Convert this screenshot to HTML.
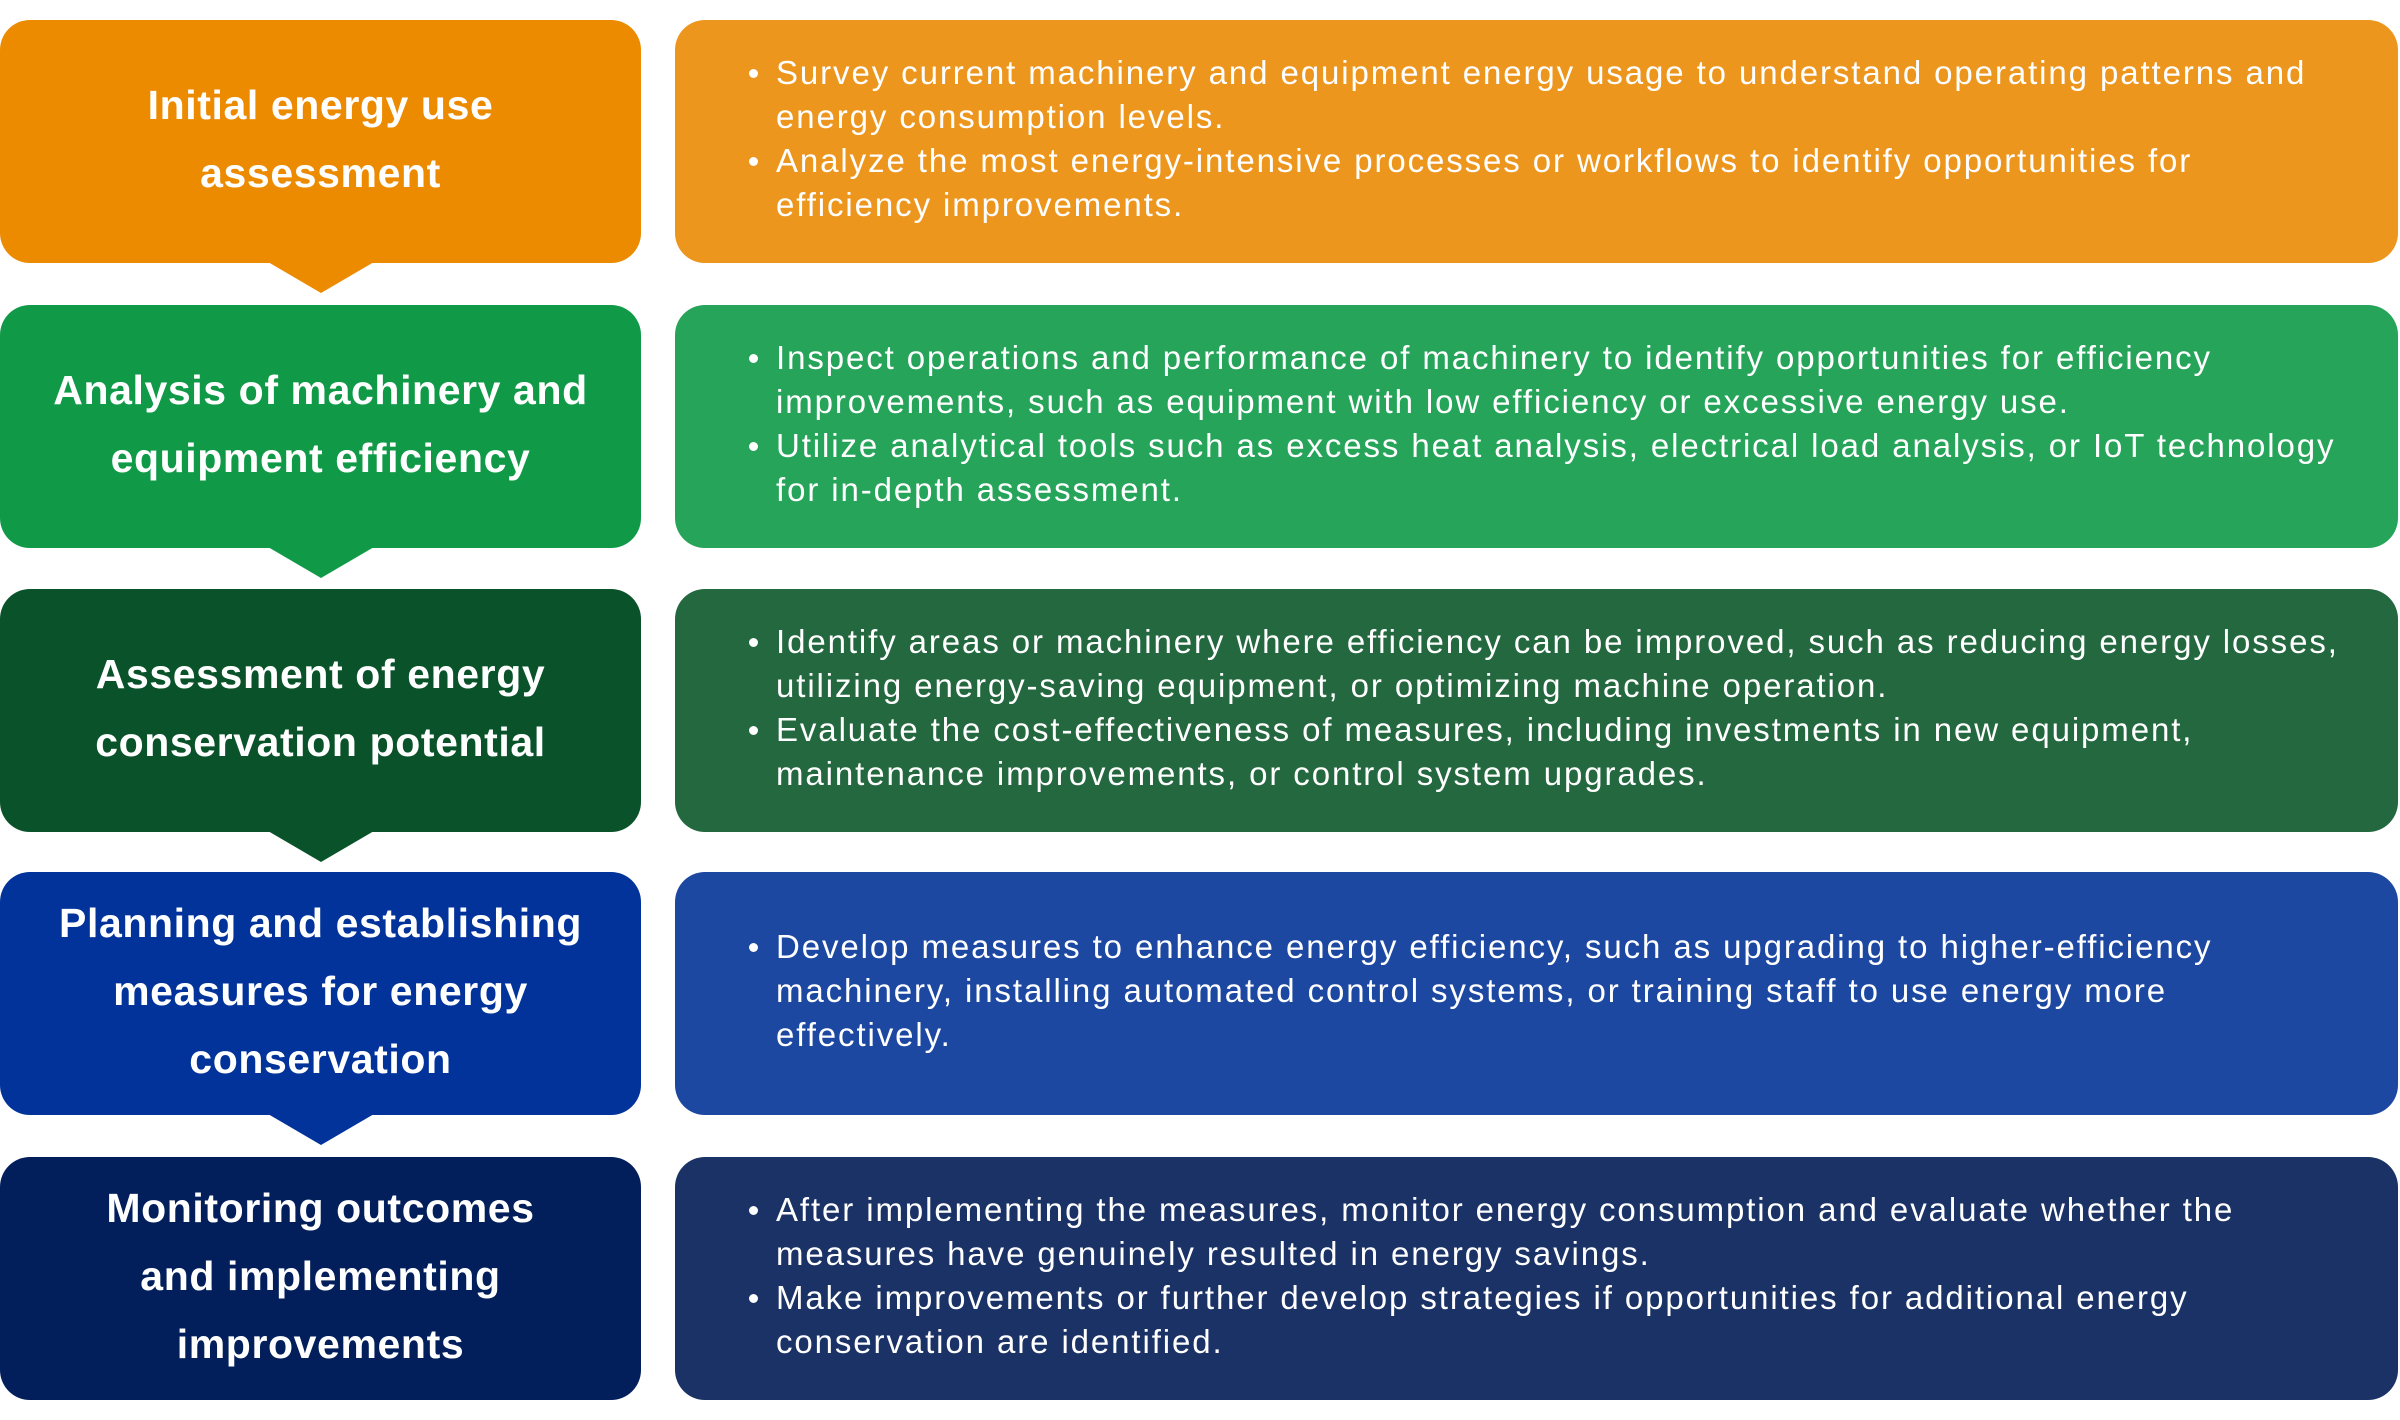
<!DOCTYPE html>
<html><head><meta charset="utf-8"><style>
body{margin:0;width:2400px;height:1420px;background:#fff;position:relative;font-family:"Liberation Sans",sans-serif;overflow:hidden}
.l,.r{position:absolute;border-radius:30px;display:flex;align-items:center;color:#fff;box-sizing:border-box;padding-bottom:5px}
.l{left:0;width:641px;height:243px;justify-content:center;text-align:center;font-weight:bold;font-size:41px;line-height:68px;letter-spacing:0.6px}
.r{left:675px;width:1723px;height:243px;font-size:33px;line-height:44px;letter-spacing:1.9px}
.r ul{margin:0;padding:0 0 0 101px;list-style:none}
.r li{position:relative;white-space:nowrap}
.r li:before{content:"";position:absolute;left:-27px;top:18px;width:9px;height:9px;border-radius:50%;background:#fff}
.t{position:absolute;left:268px;width:0;height:0;border-left:53px solid transparent;border-right:53px solid transparent;border-top:31px solid}
</style></head><body>
<div class="l" style="top:20px;background:#EC8A00">Initial energy use<br>assessment</div>
<div class="t" style="top:262px;border-top-color:#EC8A00"></div>
<div class="r" style="top:20px;background:#EC961E"><ul><li>Survey current machinery and equipment energy usage to understand operating patterns and<br>energy consumption levels.</li><li>Analyze the most energy-intensive processes or workflows to identify opportunities for<br>efficiency improvements.</li></ul></div>

<div class="l" style="top:305px;background:#109A48">Analysis of machinery and<br>equipment efficiency</div>
<div class="t" style="top:547px;border-top-color:#109A48"></div>
<div class="r" style="top:305px;background:#26A55A"><ul><li>Inspect operations and performance of machinery to identify opportunities for efficiency<br>improvements, such as equipment with low efficiency or excessive energy use.</li><li>Utilize analytical tools such as excess heat analysis, electrical load analysis, or IoT technology<br>for in-depth assessment.</li></ul></div>

<div class="l" style="top:589px;background:#0A532A">Assessment of energy<br>conservation potential</div>
<div class="t" style="top:831px;border-top-color:#0A532A"></div>
<div class="r" style="top:589px;background:#24683F"><ul><li>Identify areas or machinery where efficiency can be improved, such as reducing energy losses,<br>utilizing energy-saving equipment, or optimizing machine operation.</li><li>Evaluate the cost-effectiveness of measures, including investments in new equipment,<br>maintenance improvements, or control system upgrades.</li></ul></div>

<div class="l" style="top:872px;background:#01339A">Planning and establishing<br>measures for energy<br>conservation</div>
<div class="t" style="top:1114px;border-top-color:#01339A"></div>
<div class="r" style="top:872px;background:#1C48A2"><ul><li>Develop measures to enhance energy efficiency, such as upgrading to higher-efficiency<br>machinery, installing automated control systems, or training staff to use energy more<br>effectively.</li></ul></div>

<div class="l" style="top:1157px;background:#021F5B">Monitoring outcomes<br>and implementing<br>improvements</div>
<div class="r" style="top:1157px;background:#1A3266"><ul><li>After implementing the measures, monitor energy consumption and evaluate whether the<br>measures have genuinely resulted in energy savings.</li><li>Make improvements or further develop strategies if opportunities for additional energy<br>conservation are identified.</li></ul></div>
</body></html>
